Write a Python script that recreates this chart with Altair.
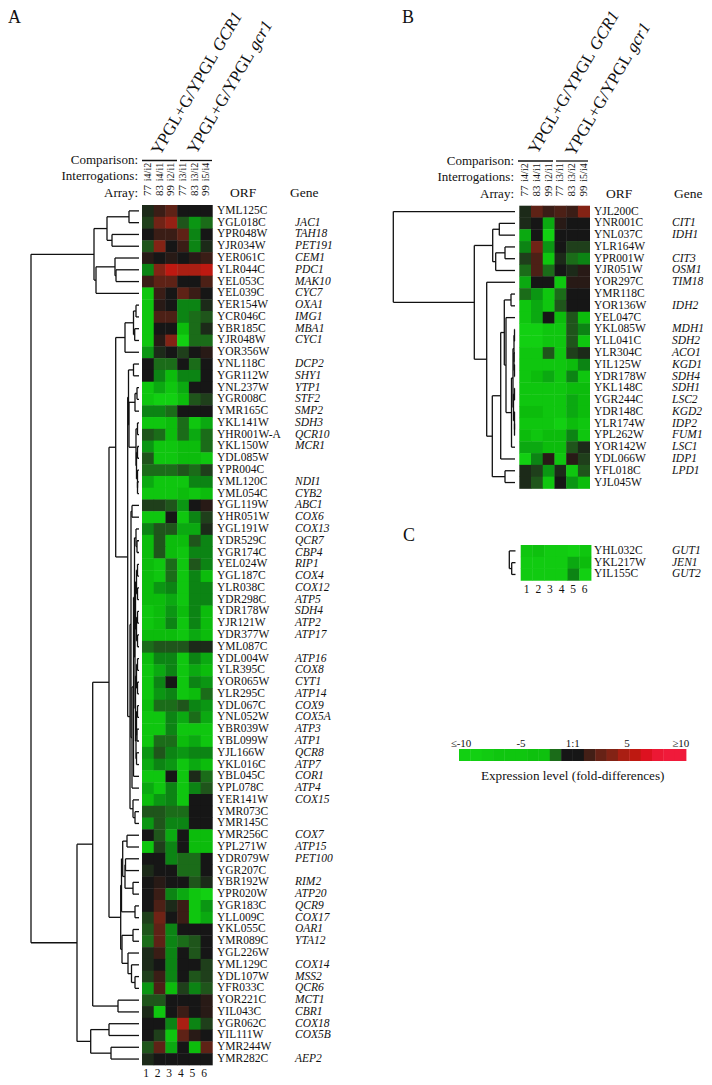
import altair as alt
import pandas as pd

# ---------- data ----------
A_ORF = """YML125C YGL018C YPR048W YJR034W YER061C YLR044C YEL053C YEL039C YER154W YCR046C YBR185C YJR048W YOR356W YNL118C YGR112W YNL237W YGR008C YMR165C YKL141W YHR001W-A YKL150W YDL085W YPR004C YML120C YML054C YGL119W YHR051W YGL191W YDR529C YGR174C YEL024W YGL187C YLR038C YDR298C YDR178W YJR121W YDR377W YML087C YDL004W YLR395C YOR065W YLR295C YDL067C YNL052W YBR039W YBL099W YJL166W YKL016C YBL045C YPL078C YER141W YMR073C YMR145C YMR256C YPL271W YDR079W YGR207C YBR192W YPR020W YGR183C YLL009C YKL055C YMR089C YGL226W YML129C YDL107W YFR033C YOR221C YIL043C YGR062C YIL111W YMR244W YMR282C""".split()
A_GENE = ["", "JAC1", "TAH18", "PET191", "CEM1", "PDC1", "MAK10", "CYC7", "OXA1", "IMG1", "MBA1", "CYC1", "",
          "DCP2", "SHY1", "YTP1", "STF2", "SMP2", "SDH3", "QCR10", "MCR1", "", "", "NDI1", "CYB2", "ABC1", "COX6",
          "COX13", "QCR7", "CBP4", "RIP1", "COX4", "COX12", "ATP5", "SDH4", "ATP2", "ATP17", "", "ATP16", "COX8",
          "CYT1", "ATP14", "COX9", "COX5A", "ATP3", "ATP1", "QCR8", "ATP7", "COR1", "ATP4", "COX15", "", "",
          "COX7", "ATP15", "PET100", "", "RIM2", "ATP20", "QCR9", "COX17", "OAR1", "YTA12", "", "COX14", "MSS2",
          "QCR6", "MCT1", "CBR1", "COX18", "COX5B", "", "AEP2"]
A_VAL = [
 [-1,2,4,0,0,0],[-2,5,7,-3,-6,-4],[0,2,2,4,-5,0],[-3,6,0,2,-5,-1],[1,0,1,0,1,2],[-5,6,9,8,8,9],[2,4,4,0,0,3],
 [-9,2,0,4,2,0],[-9,1,0,-5,-5,-1],[-9,3,3,-5,-4,-3],[-9,0,0,-8,-4,-1],[-9,1,6,-10,-4,-4],[-6,-1,0,-2,0,1],
 [0,-4,-4,0,-4,0],[0,-5,-8,-5,-5,0],[-9,-7,-9,-7,0,0],[-9,-10,-10,-8,-3,-2],[-5,-5,-4,0,0,0],[-9,-9,-8,-4,-9,-7],
 [-3,-4,-8,-4,-7,-4],[-6,-9,-9,-8,-8,-4],[-3,-9,-9,-8,-8,-9],[-4,-4,-4,-3,-4,-2],[-7,-9,-9,-9,-5,-5],
 [-9,-9,-9,-8,-9,-8],[-2,-2,-3,-6,0,1],[-9,-9,0,-9,-5,-2],[-5,-3,-3,-7,-7,-1],[-8,-3,-8,-8,-3,-5],[-8,-3,-8,-9,-5,-5],
 [-8,-9,-4,-9,-3,-5],[-8,-9,-4,-9,-5,-8],[-8,-6,-5,-9,-5,-5],[-8,-8,-7,-9,-5,-5],[-9,-8,-6,-8,-5,-8],[-9,-8,-5,-9,-5,-8],
 [-8,-8,-8,-9,-7,-8],[-4,-3,-3,-3,-1,-1],[-8,-5,-5,-9,-5,-7],[-9,-7,-5,-9,-7,-8],[-9,-5,0,-9,-5,-6],[-9,-6,-5,-9,-8,-4],
 [-8,-4,-4,-3,-5,-6],[-9,-9,-5,-7,-4,-7],[-9,-9,-5,-9,-9,-9],[-9,-4,-4,-8,-7,-9],[-6,-3,-5,-6,-5,-5],[-7,-5,-6,-9,-7,-8],
 [-9,-9,0,-9,-1,-4],[-7,-9,-5,-9,-5,-3],[-8,-6,-5,-9,0,0],[-3,-3,-4,-4,0,0],[-6,-3,-5,-5,0,0],[0,-3,-7,0,-8,-8],
 [-9,-2,-5,0,-8,-8],[0,0,-5,-4,-4,0],[-1,0,0,-4,-4,0],[0,1,0,0,-3,-1],[0,2,-5,-7,-9,-10],[0,3,-1,2,-9,-6],
 [-2,5,0,2,-9,-7],[-3,4,-5,0,0,0],[-4,4,-5,-4,-3,0],[-1,2,-5,0,-3,0],[-1,0,-5,0,0,-2],[-2,2,-5,0,-3,-2],
 [-6,3,-8,-2,-5,-3],[-3,-3,0,0,0,1],[-1,-9,0,2,0,1],[0,0,-5,8,-5,-2],[0,-2,-9,4,1,0],[-3,4,-7,0,-8,4],[-1,0,0,0,0,0],
]
B_ORF = """YJL200C YNR001C YNL037C YLR164W YPR001W YJR051W YOR297C YMR118C YOR136W YEL047C YKL085W YLL041C YLR304C YIL125W YDR178W YKL148C YGR244C YDR148C YLR174W YPL262W YOR142W YDL066W YFL018C YJL045W""".split()
B_GENE = ["", "CIT1", "IDH1", "", "CIT3", "OSM1", "TIM18", "", "IDH2", "", "MDH1", "SDH2", "ACO1", "KGD1", "SDH4",
          "SDH1", "LSC2", "KGD2", "IDP2", "FUM1", "LSC1", "IDP1", "LPD1", ""]
B_VAL = [
 [-1,4,2,3,2,6],[-1,0,-7,1,0,0],[-7,0,-10,0,0,0],[-5,5,-6,0,-2,-2],[-2,3,-9,-1,-4,-5],[-4,3,-4,0,-1,1],
 [-7,0,0,-9,1,1],[-4,-6,-9,-4,0,0],[-9,-7,-9,-3,0,0],[-9,-7,0,-8,-3,-8],[-10,-10,-9,-9,-3,-5],[-10,-10,-9,-9,-3,-9],
 [-9,-9,-3,-9,-2,-1],[-9,-9,-9,-9,-8,-5],[-9,-8,-7,-9,-5,-9],[-9,-9,-9,-9,-8,-8],[-9,-9,-9,-9,-7,-8],[-8,-8,-9,-9,-7,-8],
 [-9,-9,-9,-10,-8,-9],[-8,-9,-8,-8,-5,-9],[-7,-7,-8,-8,-3,-1],[-10,-5,1,-9,1,-2],[-1,-2,-6,-1,-9,-3],[-1,-3,-9,0,-6,-8],
]
C_ORF = ["YHL032C", "YKL217W", "YIL155C"]
C_GENE = ["GUT1", "JEN1", "GUT2"]
C_VAL = [[-9,-8.5,-9.5,-9.5,-10,-9],[-9.5,-9.5,-9.5,-9.5,-7,-8],[-9.5,-9.5,-9.5,-9.5,-5,-10]]

INTERROGATIONS = ["i4/i2", "i4/i1", "i2/i1", "i3/i1", "i3/i2", "i5/i4"]
ARRAYS = ["77", "83", "99", "77", "83", "99"]
COLUMN_NUMBERS = ["1", "2", "3", "4", "5", "6"]

LEGEND_LEVELS = [-10,-10,-9.5,-9,-9,-9,-8.5,-8.5,-4,0,0,2.5,4.5,6,8,9,10.7,11.7,12,12]
LEGEND_TICKS = ["≤-10", "-5", "1:1", "5", "≥10"]

# dendrograms: [merge distance, child, child]; an int is a row
A1 = [136, 27, [137, 28, 29]]
A2 = [136.5, [137.5, 30, 31], [137.5, 32, 33]]
A3 = [136.5, [137.5, 34, 35], [137.5, 36, 37]]
A4 = [136.5, [137.5, 38, 39], [137.5, 40, 41]]
A5 = [136.5, [137.5, 42, 43], [137, 44, 45]]
A6 = [136.5, 46, 47]
LAD = [134.5, A1, [135, [135.5, A2, A3], [135.5, A4, [136, A5, A6]]]]
G1 = [135, [137, 15, 16], 17]
G2 = [136, [137.5, 18, 19], [136.5, [137.5, 20, 21], [137.5, 22, [137.5, 23, 24]]]]
MID = [130, [131, [132, 25, 26], [132, [133.5, LAD, 48], 49]], [133, 50, [135, 51, 52]]]
UP = [115.7, [125, [133.5, [136, 8, 9], [134.7, 10, 11]], 12], [127.7, [128.5, [133.5, 13, 14], [129, G1, G2]], MID]]
LOW = [120.7,
       [121.5, [122.7, [127, 53, 54], [125, [125.5, 55, 56], [133, 57, 58]]], [135, 59, 60]],
       [122, [133, 61, 62], [128, 63, [131.5, 64, [135, 65, 66]]]]]
TREE_A = [31, [94, [107, [129, 0, 1], [112, 2, 3]], [96, [115, 4, [116, 5, 6]], 7]],
          [77, [92.7, [109, UP, LOW], [118, 67, 68]],
           [90.7, [109, 69, 70], [111, 71, 72]]]]
LADB = [511.5, [513, [514, [514.5, 10, 11], [514, 12, [514.5, 13, 14]]],
                [513.5, [514.5, 15, 16], [514.5, 17, [514.5, 18, 19]]]], 20]
TREE_B = [393.3, 0, [474.3, [492.7, [499.3, 1, 2], [495.7, [505, 3, 4], 5]],
                     [486.7, 6, [492.3, [500.7, [504.3, [511, 7, 8], [506, 9, LADB]], 21], [505, 22, 23]]]]]
TREE_C = [509.3, 0, [511.7, 1, 2]]

# ---------- layout ----------
ROW_H = 11.78
COL_W = 11.72
PANELS = [
    dict(vals=A_VAL, orf=A_ORF, gene=A_GENE, x0=142.0, y0=205.0, orfx=217, genex=295, tree=TREE_A, leaf=139),
    dict(vals=B_VAL, orf=B_ORF, gene=B_GENE, x0=519.3, y0=205.7, orfx=594, genex=672, tree=TREE_B, leaf=515),
    dict(vals=C_VAL, orf=C_ORF, gene=C_GENE, x0=520.7, y0=545.0, orfx=594, genex=672, tree=TREE_C, leaf=515.5),
]

cells, segs, orf_txt, gene_txt = [], [], [], []


def walk(node, p, out):
    """Returns (x, y) of a dendrogram node and collects its segments."""
    if isinstance(node, int):
        return p["leaf"], p["y0"] + ROW_H * (node + 0.5)
    h, a, b = node
    xa, ya = walk(a, p, out)
    xb, yb = walk(b, p, out)
    out.append(dict(x=h, x2=h, y=ya, y2=yb))
    out.append(dict(x=h, x2=xa, y=ya, y2=ya))
    out.append(dict(x=h, x2=xb, y=yb, y2=yb))
    return h, (ya + yb) / 2


for p in PANELS:
    for r, row in enumerate(p["vals"]):
        top = p["y0"] + ROW_H * r
        for c, v in enumerate(row):
            left = p["x0"] + COL_W * c
            cells.append(dict(x=left, x2=left + COL_W + 0.4, y=top, y2=top + ROW_H + 0.4, v=v))
        orf_txt.append(dict(x=p["orfx"], y=top + ROW_H / 2, t=p["orf"][r]))
        if p["gene"][r]:
            gene_txt.append(dict(x=p["genex"], y=top + ROW_H / 2, t=p["gene"][r]))
    walk(p["tree"], p, segs)

# colour-bar segments share the colour scale
LEG_X0, LEG_X1, LEG_Y0, LEG_Y1 = 459.0, 686.0, 749.0, 761.0
step = (LEG_X1 - LEG_X0) / len(LEGEND_LEVELS)
for i, v in enumerate(LEGEND_LEVELS):
    cells.append(dict(x=LEG_X0 + i * step, x2=LEG_X0 + (i + 1) * step + 0.4, y=LEG_Y0, y2=LEG_Y1, v=v))

rules = [dict(x=142, x2=177, y=160.5, y2=160.5), dict(x=180, x2=212, y=160.5, y2=160.5),
         dict(x=518, x2=553, y=161, y2=161), dict(x=556, x2=588, y=161, y2=161)]

# header texts
head_r = [dict(x=138, y=164, t="Comparison:"), dict(x=138, y=180, t="Interrogations:"), dict(x=138, y=197, t="Array:"),
          dict(x=514, y=165, t="Comparison:"), dict(x=514, y=181, t="Interrogations:"), dict(x=514, y=198, t="Array:")]
head_l = [dict(x=230, y=197, t="ORF"), dict(x=290, y=197, t="Gene"), dict(x=606, y=198, t="ORF"), dict(x=674, y=198, t="Gene")]
vert_i, vert_a, nums = [], [], []
for x0, yi, ya in [(142.0, 172, 190.5), (519.3, 172.5, 191)]:
    for c in range(6):
        cx = x0 + COL_W * (c + 0.5)
        vert_i.append(dict(x=cx, y=yi, t=INTERROGATIONS[c]))
        vert_a.append(dict(x=cx, y=ya, t=ARRAYS[c]))
for x0, y in [(146.0, 1076.5), (526.7, 592.5)]:
    for c in range(6):
        nums.append(dict(x=x0 + 11.6 * c, y=y, t=COLUMN_NUMBERS[c]))
letters = [dict(x=8, y=23, t="A"), dict(x=402, y=23, t="B"), dict(x=403, y=541, t="C")]
leg_ticks = [dict(x=x, y=747, t=t) for x, t in zip([461, 521, 572.7, 627, 680.7], LEGEND_TICKS)]
leg_title = [dict(x=572.7, y=780, t="Expression level (fold-differences)")]

# slanted titles: roman part then italic part along the same baseline
FS = 17
dx, dy = 0.5075 * 7.06 * FS, -0.8616 * 7.06 * FS
slant_r, slant_i = [], []
for (x, y, it) in [(160, 156, "GCR1"), (196, 155, "gcr1"), (537, 155, "GCR1"), (574, 157, "gcr1")]:
    slant_r.append(dict(x=x, y=y, t="YPGL+G/YPGL "))
    slant_i.append(dict(x=x + dx, y=y + dy, t=it))

# ---------- chart ----------
X = alt.X("x:Q", axis=None, scale=alt.Scale(domain=[8, 704], nice=False, zero=False))
Y = alt.Y("y:Q", axis=None, scale=alt.Scale(domain=[1077, 8], nice=False, zero=False))
INK = "#111111"
SERIF = "Liberation Serif"


def text_layer(rows, size, align="left", baseline="middle", angle=None, style=None):
    kw = dict(font=SERIF, fontSize=size, align=align, baseline=baseline, color=INK)
    if angle is not None:
        kw["angle"] = angle
    if style:
        kw["fontStyle"] = style
    return alt.Chart(pd.DataFrame(rows)).mark_text(**kw).encode(x=X, y=Y, text="t:N")


heat = alt.Chart(pd.DataFrame(cells)).mark_rect().encode(
    x=X, x2="x2:Q", y=Y, y2="y2:Q",
    color=alt.Color("v:Q", legend=None, scale=alt.Scale(
        domain=[-10, -8, -5, 0, 10, 12],
        range=["#12d012", "#0cbc0c", "#0c8414", "#161616", "#d2100f", "#f01a3a"])),
)
tree = alt.Chart(pd.DataFrame(segs)).mark_rule(strokeWidth=1.3, color="#111111").encode(x=X, x2="x2:Q", y=Y, y2="y2:Q")
heads = alt.Chart(pd.DataFrame(rules)).mark_rule(strokeWidth=1.3, color="#111111").encode(x=X, x2="x2:Q", y=Y, y2="y2:Q")

chart = alt.layer(
    heat, tree, heads,
    text_layer(orf_txt, 11.5),
    text_layer(gene_txt, 11.5, style="italic"),
    text_layer(head_r, 13, align="right", baseline="alphabetic"),
    text_layer(head_l, 13.5, baseline="alphabetic"),
    text_layer(vert_i, 10, align="center", angle=270),
    text_layer(vert_a, 11, align="center", angle=270),
    text_layer(nums, 11.5, align="center", baseline="alphabetic"),
    text_layer(letters, 18, baseline="alphabetic"),
    text_layer(leg_ticks, 11, align="center", baseline="alphabetic"),
    text_layer(leg_title, 13.2, align="center", baseline="alphabetic"),
    text_layer(slant_r, FS, baseline="alphabetic", angle=300.5),
    text_layer(slant_i, FS, baseline="alphabetic", angle=300.5, style="italic"),
).properties(width=696, height=1069, padding=0, autosize=alt.AutoSizeParams(type="none")).configure_view(stroke=None)

chart.save("out.html", embed_options={"renderer": "svg", "actions": False})
